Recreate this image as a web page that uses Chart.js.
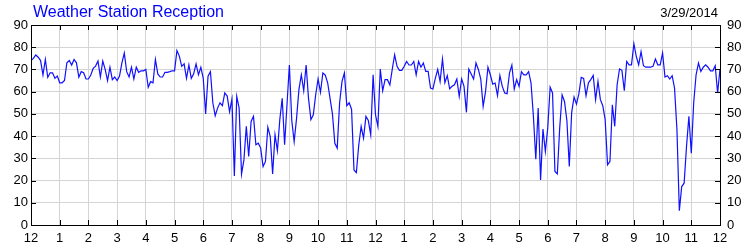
<!DOCTYPE html>
<html>
<head>
<meta charset="utf-8">
<script src="https://cdn.jsdelivr.net/npm/chart.js@4.4.1/dist/chart.umd.min.js"></script>
<style>
  html, body { margin: 0; padding: 0; background: #fff; }
  #wrap { width: 750px; height: 250px; }
</style>
</head>
<body>
<div id="wrap"><canvas id="myChart" width="750" height="250"></canvas></div>
<script>
const chartTitle = 'Weather Station Reception';
const chartDate = '3/29/2014';

// hour labels along the bottom, one per 12 samples (5 min readings)
const hourLabels = ['12','1','2','3','4','5','6','7','8','9','10','11',
                    '12','1','2','3','4','5','6','7','8','9','10','11','12'];
const yTicks = [0, 10, 20, 30, 40, 50, 60, 70, 80, 90];

// reception %, 12 readings per hour
const reception = [
  74, 75, 76.5, 75.5, 74, 67.5, 74.5, 66.5, 68.5, 68.5, 66, 67,
  64, 64, 65, 73, 74, 72, 74.5, 73, 66.5, 69, 68.5, 65.7,
  65.7, 67.5, 70.5, 71.5, 73.8, 66.6, 73.8, 70, 65, 71, 65.4, 66.6,
  65, 67, 73, 77.4, 69, 66.6, 71, 65.7, 71, 68.7, 69.4, 69.4,
  70, 62, 64.5, 64, 74.5, 68, 66.6, 66.6, 68.7, 68.7, 69, 69.4,
  69.4, 78.5, 76, 71.4, 72.5, 66, 72, 66, 68, 72.5, 67.6, 71,
  66, 50, 67, 69, 55, 49.2, 52.6, 55, 53.7, 59.4, 58, 51,
  56.7, 22.1, 57.9, 52.6, 22.9, 29.3, 44.4, 30.8, 46.6, 48.9, 36.1, 36.8,
  34.6, 26.3, 28.6, 44, 39.8, 23, 40.6, 33.4, 47.4, 57, 36.1, 54,
  72, 47, 37.5, 48, 61, 67.6, 60.4, 72, 57, 47.4, 49.6, 58.6,
  65.7, 59.7, 68.4, 67.5, 64, 57, 50, 36.8, 34.6, 55, 64.6, 68.4,
  53.7, 55, 52, 24.8, 23.6, 36, 44.4, 39.1, 48.9, 47, 40.6, 67.6,
  49.6, 44.4, 70.2, 60.4, 65.4, 65.4, 63, 70, 76.6, 71.4, 69.6, 69.6,
  71.4, 73.6, 72, 72, 73.6, 67.6, 73.6, 71, 72.9, 69.1, 69.1, 61.6,
  61.2, 66, 70, 64.6, 74.7, 64, 67.2, 61.3, 62.4, 63.1, 65.7, 57.9,
  65.7, 62.4, 50.7, 70.2, 68, 65.7, 72.9, 70, 65.7, 53.4, 60, 71,
  67.6, 63.4, 63.9, 58.2, 67.2, 62.4, 59.4, 59.1, 68.4, 72, 61.2, 65.4,
  62.4, 69, 67.6, 67.6, 69, 64, 49, 29.6, 52.6, 20.3, 43.2, 33.1,
  43.7, 62, 59.4, 24.1, 23, 43.7, 58.6, 55.6, 47, 26.3, 50.7, 57.6,
  54.4, 59, 66.4, 66, 58.2, 64, 65.4, 67.3, 56.4, 64.6, 56.4, 53.7,
  47.4, 27.1, 28.6, 54.1, 44.4, 63.1, 70.2, 69.6, 60.4, 73.6, 72.1, 72.1,
  81.6, 75.9, 72.1, 78, 71.7, 71, 71, 71, 71.4, 74.7, 72.1, 72.1,
  77.4, 66.6, 67.2, 65.7, 67.2, 61.6, 42.9, 6.4, 17.3, 18.8, 35.3, 48.9,
  32.3, 54.9, 67.6, 72.9, 69.1, 71, 72.1, 71, 69.4, 69.4, 71.7, 59.4,
  70.2
];

const perHour = 12;
const FONT = 'Arial, "Liberation Sans", sans-serif';

// black frame, inward tick marks, title and date
const framePlugin = {
  id: 'frame',
  afterDraw(chart) {
    const { ctx, chartArea: a, scales } = chart;
    const tl = 5;
    ctx.save();
    ctx.strokeStyle = '#000';
    ctx.lineWidth = 1;
    ctx.beginPath();
    scales.x.ticks.forEach(t => {
      const px = Math.round(scales.x.getPixelForValue(t.value)) + 0.5;
      ctx.moveTo(px, a.top); ctx.lineTo(px, a.top + tl);
      ctx.moveTo(px, a.bottom); ctx.lineTo(px, a.bottom - tl);
    });
    scales.y.ticks.forEach(t => {
      const py = Math.round(scales.y.getPixelForValue(t.value)) + 0.5;
      ctx.moveTo(a.left, py); ctx.lineTo(a.left + tl, py);
      ctx.moveTo(a.right, py); ctx.lineTo(a.right - tl, py);
    });
    ctx.stroke();
    ctx.strokeRect(Math.round(a.left) + 0.5, Math.round(a.top) + 0.5,
                   Math.round(a.right - a.left), Math.round(a.bottom - a.top));

    ctx.textBaseline = 'alphabetic';
    ctx.fillStyle = '#0000ff';
    ctx.font = '16px ' + FONT;
    ctx.textAlign = 'left';
    ctx.fillText(chartTitle, 33, 17);
    ctx.fillStyle = '#000';
    ctx.font = '13px ' + FONT;
    ctx.textAlign = 'right';
    ctx.fillText(chartDate, 718, 17);
    ctx.restore();
  }
};

const ctx = document.getElementById('myChart').getContext('2d');
const myChart = new Chart(ctx, {
  type: 'line',
  data: {
    datasets: [{
      label: 'Reception',
      data: reception.map((v, i) => ({ x: i, y: v })),
      borderColor: '#1010ff',
      borderWidth: 1.2,
      pointRadius: 0,
      tension: 0,
      fill: false,
    }]
  },
  options: {
    responsive: false,
    animation: false,
    events: [],
    layout: { padding: { top: 25, left: 0, right: 0, bottom: 0 } },
    plugins: {
      legend: { display: false },
      title: { display: false },
      tooltip: { enabled: false },
    },
    scales: {
      x: {
        type: 'linear',
        min: 0,
        max: (hourLabels.length - 1) * perHour,
        afterFit: s => { s.height = 25; },
        afterBuildTicks: s => {
          s.ticks = hourLabels.map((l, i) => ({ value: i * perHour }));
        },
        ticks: {
          autoSkip: false,
          maxRotation: 0,
          padding: 6,
          color: '#000',
          font: { size: 13, family: FONT },
          callback: v => hourLabels[Math.round(v / perHour)],
        },
        grid: { color: '#d4d4d4', drawTicks: false },
        border: { display: false },
      },
      y: {
        position: 'left',
        min: 0,
        max: 90,
        afterFit: s => { s.width = 31; },
        afterBuildTicks: s => { s.ticks = yTicks.map(v => ({ value: v })); },
        ticks: {
          padding: 3,
          color: '#000',
          font: { size: 13, family: FONT },
        },
        grid: { color: '#d4d4d4', drawTicks: false },
        border: { display: false },
      },
      y2: {
        position: 'right',
        min: 0,
        max: 90,
        afterFit: s => { s.width = 30; },
        afterBuildTicks: s => { s.ticks = yTicks.map(v => ({ value: v })); },
        ticks: {
          padding: 7,
          color: '#000',
          font: { size: 13, family: FONT },
        },
        grid: { display: false, drawTicks: false },
        border: { display: false },
      },
    }
  },
  plugins: [framePlugin],
});
</script>
</body>
</html>
